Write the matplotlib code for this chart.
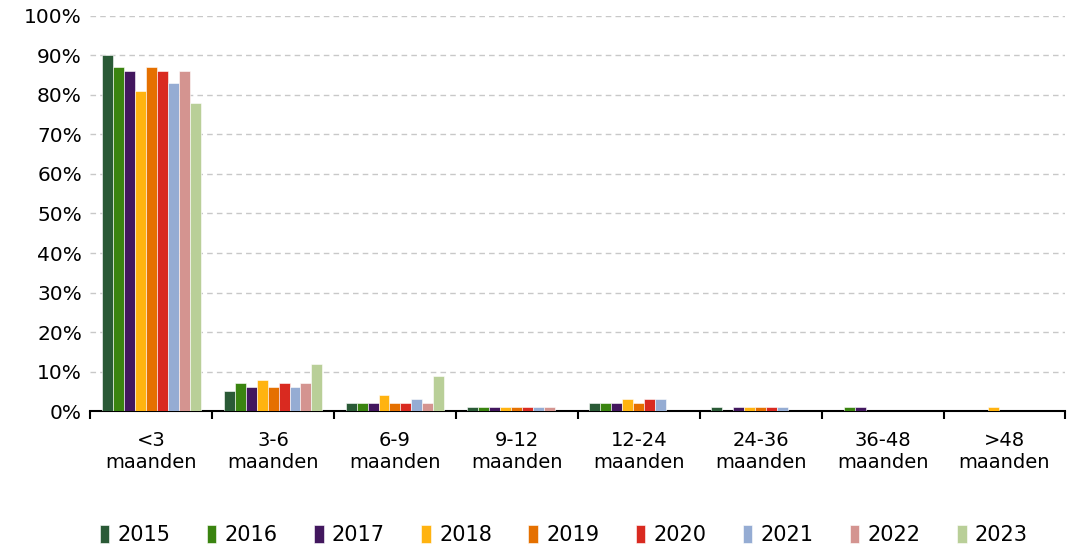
import numpy as np
import matplotlib
matplotlib.use('Agg')
import matplotlib.pyplot as plt
from matplotlib.ticker import FuncFormatter, FixedLocator

categories = ['<3\nmaanden', '3-6\nmaanden', '6-9\nmaanden', '9-12\nmaanden',
              '12-24\nmaanden', '24-36\nmaanden', '36-48\nmaanden', '>48\nmaanden']
years = ['2015', '2016', '2017', '2018', '2019', '2020', '2021', '2022', '2023']
colors = ['#2a5a36', '#3a8410', '#42175e', '#ffb310', '#e57000',
          '#d92a20', '#95acd3', '#d49490', '#b9cf98']

# percentages per year, one value per category
values = {
    '2015': [90, 5, 2, 1, 2, 1, 0, 0],
    '2016': [87, 7, 2, 1, 2, 0, 1, 0],
    '2017': [86, 6, 2, 1, 2, 1, 1, 0],
    '2018': [81, 8, 4, 1, 3, 1, 0, 1],
    '2019': [87, 6, 2, 1, 2, 1, 0, 0],
    '2020': [86, 7, 2, 1, 3, 1, 0, 0],
    '2021': [83, 6, 3, 1, 3, 1, 0, 0],
    '2022': [86, 7, 2, 1, 0, 0, 0, 0],
    '2023': [78, 12, 9, 0, 0, 0, 0, 0],
}

fig = plt.figure(figsize=(10.74, 5.46), dpi=100)
ax = fig.add_axes([0.084, 0.247, 0.908, 0.724])

x = np.arange(len(categories))
w = 0.09
for i, yr in enumerate(years):
    ax.bar(x + (i - 4) * w, values[yr], width=w, color=colors[i], label=yr,
           edgecolor='white', linewidth=0.4, zorder=3)

ax.set_xlim(-0.5, len(categories) - 0.5)
ax.set_ylim(0, 100)
ax.set_yticks(np.arange(0, 101, 10))
ax.yaxis.set_major_formatter(FuncFormatter(lambda v, p: f'{int(v)}%'))
ax.yaxis.grid(True, color='#c8c8c8', linestyle=(0, (4, 3)), linewidth=1, zorder=0)

ax.set_xticks(x)
ax.set_xticklabels(categories, fontsize=14, linespacing=1.25)
ax.xaxis.set_minor_locator(FixedLocator(np.arange(-0.5, len(categories), 1)))
ax.tick_params(axis='x', which='major', length=0, pad=14)
ax.tick_params(axis='x', which='minor', length=6, width=1.5, direction='out', color='black')
ax.tick_params(axis='y', length=0, labelsize=14.5, pad=6)

for s in ['top', 'right', 'left']:
    ax.spines[s].set_visible(False)
ax.spines['bottom'].set_linewidth(1.5)

fig.legend(loc='lower center', ncol=9, bbox_to_anchor=(0.525, -0.033), frameon=False,
           fontsize=15, handlelength=0.45, handleheight=1.0, handletextpad=0.4,
           columnspacing=1.75)

fig.savefig('out.png', dpi=100)
